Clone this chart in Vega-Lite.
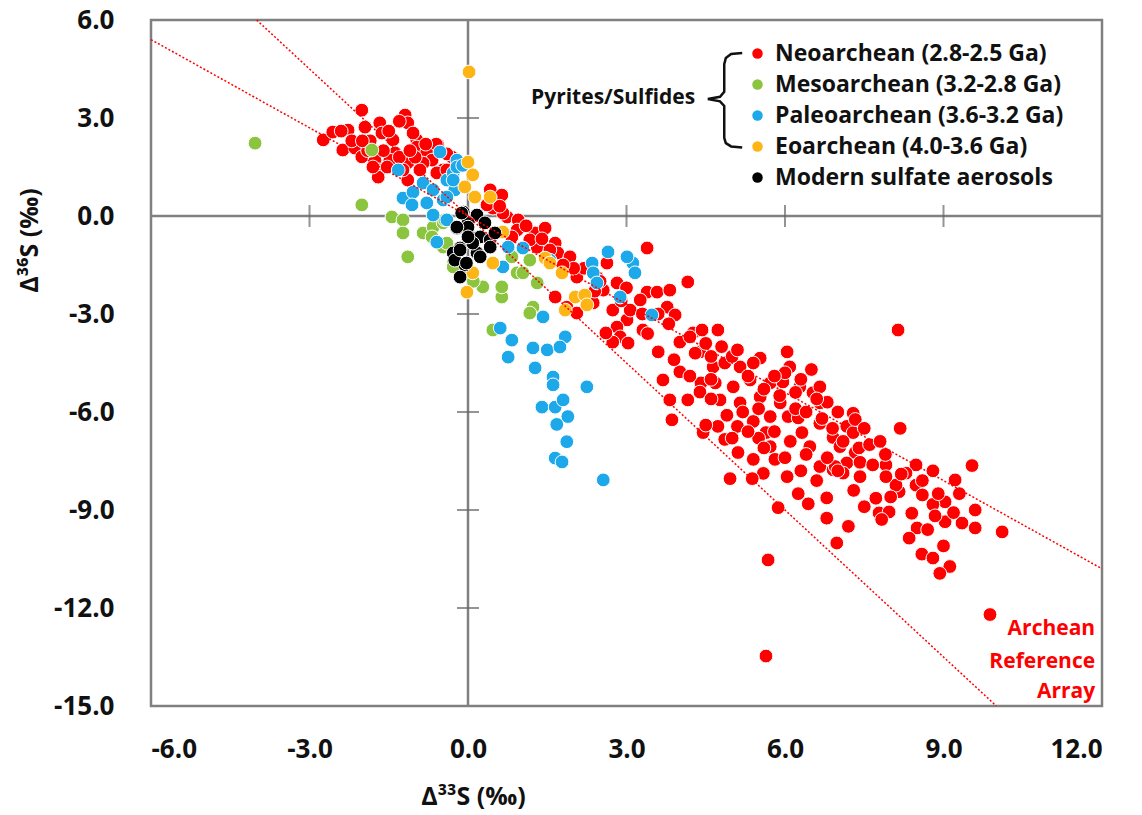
{
"$schema": "https://vega.github.io/schema/vega-lite/v6.json",
"width": 951, "height": 686,
"autosize": {"type": "none"},
"padding": {"left": 151, "top": 20, "right": 40, "bottom": 109},
"background": "white",
"config": {
  "font": "Open Sans",
  "view": {"stroke": "#808080", "strokeWidth": 2.5},
  "axis": {"grid": false, "domain": false, "ticks": false, "tickSize": 0, "labelFont": "Open Sans", "labelFontWeight": "bold", "labelFontSize": 26, "labelColor": "#111", "titleFont": "Open Sans", "titleFontWeight": "bold", "titleFontSize": 25, "titleColor": "#111"}
},
"datasets": {
  "pts": [
{"g":"N","x":-2.01,"y":3.24},{"g":"N","x":-2.74,"y":2.33},{"g":"N","x":-2.56,"y":2.57},{"g":"N","x":-2.27,"y":2.63},{"g":"N","x":-1.95,"y":2.72},{"g":"N","x":-1.67,"y":2.85},{"g":"N","x":-1.63,"y":2.54},{"g":"N","x":-1.19,"y":3.09},{"g":"N","x":-1.14,"y":2.85},{"g":"N","x":-2.37,"y":2.02},{"g":"N","x":-2.14,"y":2.08},{"g":"N","x":-2.01,"y":1.81},{"g":"N","x":-1.76,"y":1.71},{"g":"N","x":-1.67,"y":1.41},{"g":"N","x":-1.70,"y":1.19},{"g":"N","x":-1.42,"y":2.33},{"g":"N","x":-1.38,"y":1.93},{"g":"N","x":-1.48,"y":1.71},{"g":"N","x":-1.15,"y":1.62},{"g":"N","x":-1.14,"y":1.10},{"g":"N","x":-0.97,"y":2.33},{"g":"N","x":-0.97,"y":2.11},{"g":"N","x":-0.78,"y":1.96},{"g":"N","x":-0.68,"y":1.71},{"g":"N","x":-0.85,"y":1.62},{"g":"N","x":-0.57,"y":2.17},{"g":"N","x":-0.47,"y":1.41},{"g":"N","x":-0.59,"y":1.32},{"g":"N","x":-0.91,"y":1.41},{"g":"N","x":-1.04,"y":2.54},{"g":"N","x":-1.23,"y":1.41},{"g":"N","x":-1.53,"y":1.50},{"g":"N","x":-0.40,"y":1.41},{"g":"N","x":-0.30,"y":1.80},{"g":"N","x":-0.60,"y":2.20},{"g":"N","x":-1.30,"y":2.90},{"g":"N","x":-1.85,"y":2.30},{"g":"N","x":-2.40,"y":2.60},
{"g":"N","x":-2.2,"y":2.3},{"g":"N","x":-1.9,"y":2.0},{"g":"N","x":-1.6,"y":2.0},{"g":"N","x":-1.3,"y":1.8},{"g":"N","x":-1.0,"y":1.8},{"g":"N","x":-0.8,"y":2.2},{"g":"N","x":-1.1,"y":2.0},{"g":"N","x":-0.4,"y":1.9},{"g":"N","x":-1.5,"y":2.6},{"g":"N","x":-1.8,"y":1.5},{"g":"N","x":-2.0,"y":2.3},
{"g":"N","x":0.42,"y":0.80},{"g":"N","x":0.64,"y":0.64},{"g":"N","x":0.74,"y":-0.03},{"g":"N","x":0.95,"y":-0.12},{"g":"N","x":0.93,"y":-0.43},{"g":"N","x":0.66,"y":0.09},{"g":"N","x":0.83,"y":-0.64},{"g":"N","x":1.27,"y":-0.52},{"g":"N","x":1.46,"y":-0.37},{"g":"N","x":1.31,"y":-0.95},{"g":"N","x":1.65,"y":-0.83},{"g":"N","x":1.70,"y":-1.13},{"g":"N","x":1.93,"y":-1.25},{"g":"N","x":1.55,"y":-1.04},{"g":"N","x":2.06,"y":-1.87},{"g":"N","x":1.65,"y":-2.48},{"g":"N","x":1.87,"y":-2.79},{"g":"N","x":2.06,"y":-2.97},{"g":"N","x":2.44,"y":-1.87},{"g":"N","x":2.56,"y":-2.27},{"g":"N","x":2.37,"y":-2.66},{"g":"N","x":2.63,"y":-1.44},{"g":"N","x":2.82,"y":-2.05},{"g":"N","x":2.74,"y":-2.88},{"g":"N","x":3.39,"y":-0.98},{"g":"N","x":3.39,"y":-2.33},{"g":"N","x":3.58,"y":-2.33},{"g":"N","x":3.82,"y":-2.27},{"g":"N","x":3.77,"y":-2.79},{"g":"N","x":3.92,"y":-3.03},{"g":"N","x":4.16,"y":-2.02},{"g":"N","x":3.01,"y":-3.18},{"g":"N","x":2.82,"y":-3.40},{"g":"N","x":3.31,"y":-3.49},{"g":"N","x":2.88,"y":-3.70},{"g":"N","x":3.26,"y":-2.57},{"g":"N","x":3.07,"y":-2.88},{"g":"N","x":4.26,"y":-3.58},{"g":"N","x":0.47,"y":0.24},{"g":"N","x":1.17,"y":-0.73},{"g":"N","x":0.36,"y":0.34},
{"g":"N","x":2.74,"y":-3.86},{"g":"N","x":3.03,"y":-3.89},{"g":"N","x":4.01,"y":-3.86},{"g":"N","x":4.43,"y":-3.49},{"g":"N","x":4.73,"y":-3.49},{"g":"N","x":4.39,"y":-4.16},{"g":"N","x":3.60,"y":-4.16},{"g":"N","x":4.01,"y":-4.77},{"g":"N","x":3.69,"y":-5.02},{"g":"N","x":3.82,"y":-5.63},{"g":"N","x":3.86,"y":-6.24},{"g":"N","x":4.16,"y":-5.63},{"g":"N","x":4.41,"y":-5.11},{"g":"N","x":4.64,"y":-4.62},{"g":"N","x":4.86,"y":-4.50},{"g":"N","x":5.15,"y":-4.62},{"g":"N","x":5.53,"y":-4.35},{"g":"N","x":6.04,"y":-4.16},{"g":"N","x":6.09,"y":-4.62},{"g":"N","x":5.34,"y":-5.02},{"g":"N","x":5.02,"y":-5.23},{"g":"N","x":4.68,"y":-5.11},{"g":"N","x":4.77,"y":-5.63},{"g":"N","x":5.15,"y":-5.72},{"g":"N","x":5.53,"y":-5.54},{"g":"N","x":5.72,"y":-5.11},{"g":"N","x":5.96,"y":-5.08},{"g":"N","x":6.28,"y":-5.23},{"g":"N","x":6.53,"y":-5.41},{"g":"N","x":6.66,"y":-5.23},{"g":"N","x":6.66,"y":-5.72},{"g":"N","x":5.91,"y":-5.72},{"g":"N","x":6.06,"y":-6.14},{"g":"N","x":5.72,"y":-6.14},{"g":"N","x":5.40,"y":-6.29},{"g":"N","x":5.10,"y":-6.44},{"g":"N","x":4.73,"y":-6.44},{"g":"N","x":4.45,"y":-6.63},{"g":"N","x":4.86,"y":-6.84},{"g":"N","x":5.11,"y":-7.24},{"g":"N","x":5.40,"y":-7.45},{"g":"N","x":5.64,"y":-6.63},{"g":"N","x":5.72,"y":-7.06},{"g":"N","x":5.81,"y":-7.45},{"g":"N","x":6.25,"y":-6.18},{"g":"N","x":6.32,"y":-6.63},{"g":"N","x":6.47,"y":-7.06},{"g":"N","x":6.66,"y":-6.35},{"g":"N","x":6.91,"y":-6.78},{"g":"N","x":7.04,"y":-7.06},{"g":"N","x":7.17,"y":-6.44},{"g":"N","x":7.29,"y":-6.04},{"g":"N","x":7.29,"y":-6.63},{"g":"N","x":7.33,"y":-7.24},{"g":"N","x":6.66,"y":-7.67},{"g":"N","x":6.91,"y":-7.77},{"g":"N","x":6.04,"y":-7.98},{"g":"N","x":5.59,"y":-7.88},{"g":"N","x":4.96,"y":-8.04},{"g":"N","x":5.38,"y":-8.04},{"g":"N","x":6.25,"y":-8.50},{"g":"N","x":6.44,"y":-8.81},{"g":"N","x":6.79,"y":-8.63},{"g":"N","x":5.87,"y":-8.93},{"g":"N","x":7.17,"y":-7.56},{"g":"N","x":2.61,"y":-3.58},{"g":"N","x":4.39,"y":-5.39},
{"g":"N","x":8.14,"y":-3.49},{"g":"N","x":8.18,"y":-6.50},{"g":"N","x":9.54,"y":-7.64},{"g":"N","x":9.22,"y":-8.08},{"g":"N","x":10.11,"y":-9.67},{"g":"N","x":9.35,"y":-9.40},{"g":"N","x":9.60,"y":-9.55},{"g":"N","x":9.03,"y":-8.75},{"g":"N","x":9.03,"y":-9.36},{"g":"N","x":9.19,"y":-9.08},{"g":"N","x":8.80,"y":-8.83},{"g":"N","x":8.84,"y":-9.18},{"g":"N","x":9.12,"y":-10.73},{"g":"N","x":8.93,"y":-10.94},{"g":"N","x":8.59,"y":-10.35},{"g":"N","x":8.80,"y":-10.47},{"g":"N","x":8.50,"y":-9.55},{"g":"N","x":8.35,"y":-9.86},{"g":"N","x":8.48,"y":-8.24},{"g":"N","x":8.60,"y":-8.54},{"g":"N","x":8.48,"y":-7.62},{"g":"N","x":8.29,"y":-7.87},{"g":"N","x":8.16,"y":-8.44},{"g":"N","x":8.10,"y":-8.24},{"g":"N","x":7.91,"y":-7.62},{"g":"N","x":7.91,"y":-7.98},{"g":"N","x":7.72,"y":-8.64},{"g":"N","x":7.78,"y":-9.09},{"g":"N","x":7.97,"y":-9.06},{"g":"N","x":7.83,"y":-9.29},{"g":"N","x":7.42,"y":-7.98},{"g":"N","x":7.42,"y":-7.54},{"g":"N","x":7.66,"y":-7.62},{"g":"N","x":7.33,"y":-6.23},{"g":"N","x":6.79,"y":-9.25},{"g":"N","x":6.98,"y":-10.01},{"g":"N","x":7.10,"y":-7.87},{"g":"N","x":6.95,"y":-7.67},
{"g":"N","x":5.68,"y":-10.53},{"g":"N","x":5.64,"y":-13.47},{"g":"N","x":9.88,"y":-12.2},
{"g":"N","x":5.0,"y":-4.3},{"g":"N","x":5.3,"y":-4.9},{"g":"N","x":5.6,"y":-5.3},{"g":"N","x":5.9,"y":-5.5},{"g":"N","x":6.2,"y":-5.9},{"g":"N","x":6.4,"y":-6.0},{"g":"N","x":6.7,"y":-6.2},{"g":"N","x":6.9,"y":-6.5},{"g":"N","x":7.1,"y":-6.9},{"g":"N","x":7.4,"y":-7.1},{"g":"N","x":6.0,"y":-4.8},{"g":"N","x":6.3,"y":-5.0},{"g":"N","x":6.5,"y":-4.7},{"g":"N","x":5.8,"y":-6.6},{"g":"N","x":6.1,"y":-6.9},{"g":"N","x":6.4,"y":-7.3},{"g":"N","x":6.8,"y":-7.4},{"g":"N","x":7.0,"y":-7.8},{"g":"N","x":5.2,"y":-6.0},{"g":"N","x":5.5,"y":-6.8},{"g":"N","x":4.6,"y":-5.0},{"g":"N","x":4.8,"y":-4.0},{"g":"N","x":4.2,"y":-3.7},{"g":"N","x":4.5,"y":-3.9},{"g":"N","x":3.6,"y":-3.0},{"g":"N","x":3.0,"y":-2.2},{"g":"N","x":2.2,"y":-1.6},{"g":"N","x":2.5,"y":-2.0},{"g":"N","x":6.8,"y":-5.7},{"g":"N","x":7.6,"y":-7.0},{"g":"N","x":7.9,"y":-7.3},{"g":"N","x":8.2,"y":-7.9},{"g":"N","x":8.6,"y":-8.1},{"g":"N","x":8.9,"y":-8.5},{"g":"N","x":5.5,"y":-5.9},{"g":"N","x":5.0,"y":-6.8},{"g":"N","x":4.5,"y":-6.4},
{"g":"N","x":3.4,"y":-3.6},{"g":"N","x":3.9,"y":-4.4},{"g":"N","x":4.2,"y":-4.9},{"g":"N","x":4.6,"y":-5.6},{"g":"N","x":4.9,"y":-6.1},{"g":"N","x":5.3,"y":-6.6},{"g":"N","x":5.6,"y":-7.1},{"g":"N","x":6.0,"y":-7.4},{"g":"N","x":6.3,"y":-7.8},{"g":"N","x":6.6,"y":-8.1},{"g":"N","x":7.3,"y":-8.4},{"g":"N","x":7.5,"y":-8.9},{"g":"N","x":7.2,"y":-9.5},{"g":"N","x":8.0,"y":-8.6},{"g":"N","x":8.4,"y":-9.1},{"g":"N","x":8.7,"y":-9.6},{"g":"N","x":9.0,"y":-10.1},{"g":"N","x":8.8,"y":-7.8},{"g":"N","x":9.3,"y":-8.5},{"g":"N","x":9.6,"y":-9.0},{"g":"N","x":7.8,"y":-6.9},{"g":"N","x":7.5,"y":-6.5},{"g":"N","x":7.0,"y":-6.0},{"g":"N","x":6.6,"y":-5.6},{"g":"N","x":6.2,"y":-5.4},{"g":"N","x":5.8,"y":-4.9},{"g":"N","x":5.4,"y":-4.5},{"g":"N","x":5.1,"y":-4.1},{"g":"N","x":4.6,"y":-4.3},{"g":"N","x":4.3,"y":-4.2},{"g":"N","x":3.8,"y":-3.3},{"g":"N","x":3.3,"y":-3.0},{"g":"N","x":2.9,"y":-2.6},{"g":"N","x":2.4,"y":-2.3},{"g":"N","x":2.0,"y":-1.6},{"g":"N","x":1.8,"y":-1.5},{"g":"N","x":1.4,"y":-0.7},{"g":"N","x":1.1,"y":-0.3},{"g":"N","x":0.6,"y":0.3},
{"g":"M","x":-4.03,"y":2.23},{"g":"M","x":-1.82,"y":2.02},{"g":"M","x":-2.01,"y":0.34},{"g":"M","x":-1.44,"y":-0.03},{"g":"M","x":-1.23,"y":-0.12},{"g":"M","x":-1.23,"y":-0.52},{"g":"M","x":-1.14,"y":-1.25},{"g":"M","x":-0.85,"y":-0.52},{"g":"M","x":-0.66,"y":-0.34},{"g":"M","x":-0.68,"y":-0.64},{"g":"M","x":-0.47,"y":-0.95},{"g":"M","x":-0.28,"y":-1.44},{"g":"M","x":-0.47,"y":-0.21},{"g":"M","x":-0.44,"y":-0.12},{"g":"M","x":-0.40,"y":-0.83},{"g":"M","x":-0.28,"y":-1.56},{"g":"M","x":0.28,"y":-2.17},{"g":"M","x":0.64,"y":-2.48},{"g":"M","x":0.64,"y":-2.17},{"g":"M","x":0.93,"y":-1.74},{"g":"M","x":1.17,"y":-1.35},{"g":"M","x":1.04,"y":-1.74},{"g":"M","x":1.31,"y":-2.05},{"g":"M","x":1.23,"y":-2.79},{"g":"M","x":0.83,"y":-1.25},{"g":"M","x":1.17,"y":-2.97},{"g":"M","x":0.47,"y":-3.49},{"g":"M","x":0.09,"y":-1.87},{"g":"M","x":0.10,"y":-2.00},
{"g":"P","x":-0.53,"y":1.96},{"g":"P","x":-1.32,"y":1.41},{"g":"P","x":-1.23,"y":0.55},{"g":"P","x":-1.04,"y":0.73},{"g":"P","x":-0.85,"y":1.01},{"g":"P","x":-0.66,"y":0.80},{"g":"P","x":-0.78,"y":0.40},{"g":"P","x":-1.06,"y":0.34},{"g":"P","x":-0.66,"y":0.03},{"g":"P","x":-0.59,"y":-0.80},{"g":"P","x":-0.40,"y":1.10},{"g":"P","x":-0.28,"y":1.32},{"g":"P","x":-0.21,"y":1.71},{"g":"P","x":-0.25,"y":0.80},{"g":"P","x":-0.47,"y":0.49},{"g":"P","x":-0.40,"y":-0.12},{"g":"P","x":-0.28,"y":1.10},{"g":"P","x":-0.40,"y":0.58},{"g":"P","x":-0.21,"y":1.50},{"g":"P","x":-0.10,"y":1.55},{"g":"P","x":0.76,"y":-0.95},{"g":"P","x":1.04,"y":-0.98},{"g":"P","x":0.66,"y":-1.56},{"g":"P","x":1.55,"y":-1.35},{"g":"P","x":2.65,"y":-1.10},{"g":"P","x":2.35,"y":-1.44},{"g":"P","x":2.37,"y":-1.74},{"g":"P","x":3.12,"y":-1.44},{"g":"P","x":3.16,"y":-1.74},{"g":"P","x":3.01,"y":-1.25},{"g":"P","x":2.44,"y":-2.05},{"g":"P","x":2.88,"y":-2.48},{"g":"P","x":3.48,"y":-3.03},{"g":"P","x":1.42,"y":-3.09},{"g":"P","x":0.61,"y":-3.43},{"g":"P","x":1.84,"y":-3.70},{"g":"P","x":2.56,"y":-8.08},{"g":"P","x":0.83,"y":-3.80},{"g":"P","x":0.76,"y":-4.32},{"g":"P","x":1.23,"y":-4.04},{"g":"P","x":1.50,"y":-4.10},{"g":"P","x":1.74,"y":-4.01},{"g":"P","x":1.27,"y":-4.65},{"g":"P","x":1.61,"y":-4.93},{"g":"P","x":1.61,"y":-5.17},{"g":"P","x":2.25,"y":-5.23},{"g":"P","x":1.40,"y":-5.85},{"g":"P","x":1.65,"y":-5.85},{"g":"P","x":1.80,"y":-5.63},{"g":"P","x":1.89,"y":-6.14},{"g":"P","x":1.68,"y":-6.38},{"g":"P","x":1.87,"y":-6.91},{"g":"P","x":1.65,"y":-7.41},{"g":"P","x":1.78,"y":-7.53},
{"g":"E","x":0.02,"y":4.41},{"g":"E","x":0.0,"y":1.65},{"g":"E","x":0.09,"y":1.26},{"g":"E","x":-0.06,"y":0.89},{"g":"E","x":0.13,"y":0.58},{"g":"E","x":0.42,"y":0.58},{"g":"E","x":0.66,"y":-0.49},{"g":"E","x":0.47,"y":-1.44},{"g":"E","x":0.09,"y":-1.74},{"g":"E","x":-0.02,"y":-2.33},{"g":"E","x":1.46,"y":-1.29},{"g":"E","x":1.55,"y":-1.44},{"g":"E","x":1.78,"y":-1.74},{"g":"E","x":2.03,"y":-2.48},{"g":"E","x":2.21,"y":-2.42},{"g":"E","x":2.25,"y":-2.72},{"g":"E","x":1.84,"y":-2.88},
{"g":"A","x":-0.09,"y":0.12},{"g":"A","x":0.17,"y":0.03},{"g":"A","x":0.32,"y":-0.21},{"g":"A","x":-0.21,"y":-0.37},{"g":"A","x":0.0,"y":-0.21},{"g":"A","x":0.04,"y":-0.64},{"g":"A","x":0.23,"y":-0.64},{"g":"A","x":0.42,"y":-0.73},{"g":"A","x":0.51,"y":-0.52},{"g":"A","x":-0.15,"y":-0.98},{"g":"A","x":0.17,"y":-1.13},{"g":"A","x":0.42,"y":-0.95},{"g":"A","x":-0.28,"y":-1.13},{"g":"A","x":0.23,"y":-1.25},{"g":"A","x":-0.06,"y":-1.50},{"g":"A","x":-0.25,"y":-1.35},{"g":"A","x":-0.15,"y":-1.87},{"g":"A","x":0.09,"y":-0.83},{"g":"A","x":-0.12,"y":0.09},{"g":"A","x":0.0,"y":-0.34},{"g":"A","x":-0.21,"y":-0.34},{"g":"A","x":0.0,"y":-0.64},{"g":"A","x":-0.15,"y":-1.04},{"g":"A","x":-0.03,"y":-1.44}
  ],
  "refs": [
    {"k": "a", "x": -6, "y": 5.4}, {"k": "a", "x": 12, "y": -10.8},
    {"k": "b", "x": -4, "y": 6}, {"k": "b", "x": 10, "y": -15}
  ],
  "brace": [
    {"i": 1, "x": 5.19, "y": 4.99}, {"i": 2, "x": 4.98, "y": 4.96}, {"i": 3, "x": 4.88, "y": 4.84}, {"i": 4, "x": 4.85, "y": 4.65},
    {"i": 5, "x": 4.85, "y": 3.80}, {"i": 6, "x": 4.77, "y": 3.65}, {"i": 7, "x": 4.54, "y": 3.58}, {"i": 8, "x": 4.77, "y": 3.51},
    {"i": 9, "x": 4.85, "y": 3.37}, {"i": 10, "x": 4.85, "y": 2.39}, {"i": 11, "x": 4.88, "y": 2.23}, {"i": 12, "x": 4.98, "y": 2.13},
    {"i": 13, "x": 5.19, "y": 2.10}
  ],
  "zero": [{"x": 0, "y": 0}],
  "xticks": [{"x": -3, "y": 0}, {"x": 3, "y": 0}, {"x": 6, "y": 0}, {"x": 9, "y": 0}],
  "yticks": [{"x": 0, "y": 3}, {"x": 0, "y": -3}, {"x": 0, "y": -6}, {"x": 0, "y": -9}, {"x": 0, "y": -12}],
  "notes": [
    {"t": "Archean", "x": 11.87, "y": -12.64},
    {"t": "Reference", "x": 11.87, "y": -13.65},
    {"t": "Array", "x": 11.87, "y": -14.57}
  ],
  "grp": [{"t": "Pyrites/Sulfides", "x": 4.30, "y": 3.61}]
},
"layer": [
  {
    "data": {"name": "zero"},
    "mark": {"type": "rule", "color": "#808080", "strokeWidth": 2.5},
    "encoding": {"x": {"field": "x", "type": "quantitative"}}
  },
  {
    "data": {"name": "zero"},
    "mark": {"type": "rule", "color": "#808080", "strokeWidth": 2.5},
    "encoding": {"y": {"field": "y", "type": "quantitative"}}
  },
  {
    "data": {"name": "xticks"},
    "mark": {"type": "tick", "orient": "vertical", "color": "#666", "size": 22, "thickness": 2},
    "encoding": {
      "x": {"field": "x", "type": "quantitative"},
      "y": {"field": "y", "type": "quantitative"}
    }
  },
  {
    "data": {"name": "yticks"},
    "mark": {"type": "tick", "orient": "horizontal", "color": "#666", "size": 22, "thickness": 2},
    "encoding": {
      "x": {"field": "x", "type": "quantitative"},
      "y": {"field": "y", "type": "quantitative"}
    }
  },
  {
    "data": {"name": "pts"},
    "mark": {"type": "circle", "size": 190, "opacity": 1, "stroke": "white", "strokeWidth": 1},
    "encoding": {
      "x": {"field": "x", "type": "quantitative", "scale": {"domain": [-6, 12], "nice": false, "zero": false},
            "axis": {"values": [-6, -3, 0, 3, 6, 9, 12], "format": ".1f", "labelExpr": "replace(datum.label, '−', '-')", "labelPadding": 30, "title": "Δ³³S (‰)", "titleX": 322, "titleY": 90, "titleAlign": "center", "titleBaseline": "middle"}},
      "y": {"field": "y", "type": "quantitative", "scale": {"domain": [-15, 6], "nice": false, "zero": false},
            "axis": {"values": [-15, -12, -9, -6, -3, 0, 3, 6], "format": ".1f", "labelExpr": "replace(datum.label, '−', '-')", "labelPadding": 37, "title": "Δ³⁶S (‰)", "titleX": -122, "titleY": 220, "titleAlign": "center", "titleBaseline": "middle", "titleAngle": -90}},
      "color": {"field": "g", "type": "nominal",
        "scale": {"domain": ["N", "M", "P", "E", "A"], "range": ["#FF0000", "#8BC53F", "#1DA9E9", "#FDB515", "#000000"]},
        "legend": {"orient": "none", "legendX": 595, "legendY": 22, "title": null, "padding": 0,
          "symbolType": "circle", "symbolSize": 110, "symbolStrokeWidth": 0, "labelOffset": 6, "rowPadding": 7,
          "labelFont": "Open Sans", "labelFontSize": 23, "labelFontWeight": "bold", "labelColor": "#111", "labelLimit": 400,
          "labelExpr": "datum.label == 'N' ? 'Neoarchean (2.8-2.5 Ga)' : datum.label == 'M' ? 'Mesoarchean (3.2-2.8 Ga)' : datum.label == 'P' ? 'Paleoarchean (3.6-3.2 Ga)' : datum.label == 'E' ? 'Eoarchean (4.0-3.6 Ga)' : 'Modern sulfate aerosols'"}}
    }
  },
  {
    "data": {"name": "refs"},
    "mark": {"type": "line", "color": "#FF0000", "strokeWidth": 1.5, "strokeDash": [2, 2]},
    "encoding": {
      "x": {"field": "x", "type": "quantitative"},
      "y": {"field": "y", "type": "quantitative"},
      "detail": {"field": "k", "type": "nominal"}
    }
  },
  {
    "data": {"name": "brace"},
    "mark": {"type": "line", "color": "#111", "strokeWidth": 2.5, "interpolate": "linear"},
    "encoding": {
      "x": {"field": "x", "type": "quantitative"},
      "y": {"field": "y", "type": "quantitative"},
      "order": {"field": "i", "type": "quantitative"}
    }
  },
  {
    "data": {"name": "grp"},
    "mark": {"type": "text", "align": "right", "baseline": "middle", "font": "Open Sans", "fontSize": 21, "fontWeight": "bold", "color": "#111"},
    "encoding": {
      "x": {"field": "x", "type": "quantitative"},
      "y": {"field": "y", "type": "quantitative"},
      "text": {"field": "t"}
    }
  },
  {
    "data": {"name": "notes"},
    "mark": {"type": "text", "align": "right", "baseline": "middle", "font": "Open Sans", "fontSize": 21, "fontWeight": "bold", "color": "#FF0000"},
    "encoding": {
      "x": {"field": "x", "type": "quantitative"},
      "y": {"field": "y", "type": "quantitative"},
      "text": {"field": "t"}
    }
  }
]
}
